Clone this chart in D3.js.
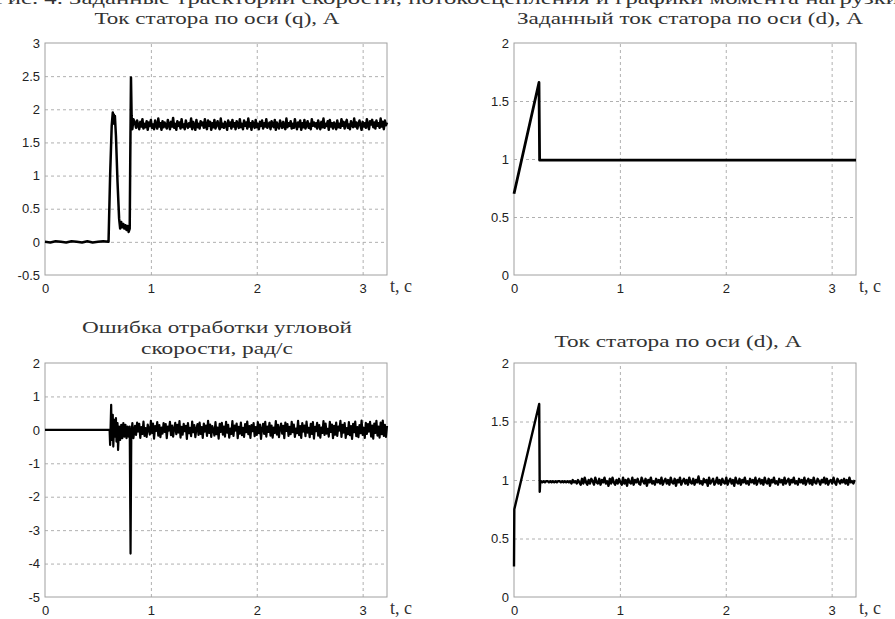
<!DOCTYPE html>
<html>
<head>
<meta charset="utf-8">
<script src="https://cdn.jsdelivr.net/npm/d3@7"></script>
<style>
  body { margin: 0; background: #fff; }
  svg { display: block; }
  .tick text { font-family: "Liberation Sans", Arial, sans-serif; font-size: 13px; fill: #222; }
  .ttl { font-family: "Liberation Serif", "Times New Roman", serif; fill: #333; }
</style>
</head>
<body>
<script>
// time axis shared by all four panels
var tMax = 3.23;
var xTicks = [0, 1, 2, 3];

// Ток статора по оси (q): start-up transient as [t, value] pairs
var qTransient = [
  [0, 0], [0.05, -0.01], [0.1, 0.01], [0.15, 0], [0.2, -0.01], [0.25, 0.01], [0.3, 0], [0.35, -0.01],
  [0.4, 0.01], [0.45, -0.01], [0.5, 0], [0.55, 0.01], [0.6, 0],
  [0.615, 1.0], [0.63, 1.75], [0.64, 1.95], [0.645, 1.8], [0.65, 1.92], [0.655, 1.78], [0.66, 1.9],
  [0.665, 1.75], [0.67, 1.6], [0.685, 0.9], [0.70, 0.35], [0.71, 0.2], [0.72, 0.3], [0.73, 0.22],
  [0.74, 0.27], [0.75, 0.2], [0.76, 0.25], [0.77, 0.18], [0.78, 0.24], [0.79, 0.15], [0.80, 0.2],
  [0.805, 1.2], [0.812, 2.48], [0.818, 1.9], [0.825, 1.7], [0.835, 1.85]
];
// steady part, sampled every 0.01 s from 0.85 s
var qSteadyStart = 0.85, qSteadyStep = 0.01;
var qSteady = [
  1.79,1.72,1.83,1.76,1.70,1.81,1.74,1.85,1.71,1.78,
  1.73,1.82,1.69,1.80,1.75,1.84,1.72,1.77,1.70,1.83,
  1.76,1.71,1.86,1.74,1.79,1.69,1.82,1.73,1.80,1.75,
  1.71,1.84,1.77,1.70,1.81,1.74,1.87,1.72,1.78,1.69,
  1.82,1.75,1.80,1.71,1.85,1.73,1.77,1.70,1.83,1.76,
  1.72,1.79,1.74,1.86,1.70,1.81,1.75,1.69,1.84,1.73,
  1.78,1.71,1.82,1.76,1.80,1.72,1.85,1.74,1.70,1.83,
  1.75,1.81,1.69,1.79,1.73,1.84,1.71,1.77,1.82,1.74,
  1.70,1.86,1.73,1.78,1.72,1.81,1.76,1.69,1.83,1.75,
  1.80,1.71,1.84,1.74,1.79,1.70,1.82,1.77,1.72,1.85,
  1.73,1.78,1.70,1.83,1.75,1.80,1.71,1.86,1.74,1.79,
  1.69,1.82,1.76,1.72,1.84,1.73,1.78,1.70,1.81,1.75,
  1.83,1.71,1.79,1.74,1.85,1.72,1.77,1.80,1.70,1.82,
  1.76,1.73,1.84,1.69,1.80,1.75,1.71,1.83,1.77,1.72,
  1.81,1.74,1.70,1.86,1.73,1.79,1.75,1.82,1.71,1.78,
  1.72,1.85,1.76,1.70,1.80,1.74,1.83,1.69,1.79,1.73,
  1.84,1.71,1.77,1.82,1.72,1.78,1.70,1.85,1.75,1.80,
  1.74,1.79,1.71,1.83,1.76,1.70,1.81,1.73,1.86,1.72,
  1.78,1.75,1.82,1.69,1.84,1.74,1.79,1.71,1.80,1.76,
  1.70,1.83,1.73,1.78,1.72,1.85,1.75,1.81,1.71,1.79,
  1.84,1.72,1.77,1.70,1.82,1.76,1.73,1.86,1.74,1.80,
  1.71,1.78,1.83,1.75,1.69,1.81,1.74,1.79,1.72,1.85,
  1.76,1.70,1.82,1.77,1.84,1.73,1.80,1.71,1.83,1.75,
  1.79,1.72,1.86,1.74,1.81,1.70,1.83,1.76,1.80
];
var qTicks = [-0.5, 0, 0.5, 1, 1.5, 2, 2.5, 3];

// Заданный ток статора по оси (d)
var dRef = [[0, 0.7], [0.236, 1.66], [0.242, 0.99], [3.23, 0.99]];
var dTicks = [0, 0.5, 1, 1.5, 2];

// Ошибка отработки угловой скорости
var errTransient = [
  [0, 0], [0.3, 0], [0.6, 0], [0.61, 0], [0.615, -0.45], [0.625, 0.75], [0.63, -0.3], [0.64, 0.45],
  [0.645, -0.5], [0.655, 0.3], [0.66, -0.2], [0.67, 0.35], [0.675, -0.35], [0.685, 0.2], [0.69, -0.6],
  [0.7, 0.1], [0.71, -0.3], [0.72, 0.15], [0.73, -0.25], [0.74, 0.2], [0.75, -0.2], [0.76, 0.15],
  [0.77, -0.25], [0.78, 0.1], [0.79, -0.2], [0.8, 0.1], [0.808, -3.7], [0.815, -0.2], [0.825, 0.2], [0.835, -0.25]
];
var errSteadyStart = 0.85, errSteadyStep = 0.01;
var errSteady = [
  0.12,-0.15,0.22,-0.05,0.18,-0.24,0.08,-0.12,0.25,-0.18,
  0.05,-0.21,0.16,0.02,-0.14,0.27,-0.09,0.19,-0.26,0.11,
  -0.03,0.23,-0.17,0.14,-0.22,0.07,-0.11,0.20,-0.06,0.17,
  -0.25,0.10,-0.02,0.24,-0.16,0.13,-0.20,0.04,0.21,-0.13,
  0.15,-0.08,0.26,-0.23,0.09,-0.14,0.18,-0.04,0.12,-0.27,
  0.20,-0.10,0.06,-0.19,0.25,-0.07,0.14,-0.22,0.03,0.17,
  -0.15,0.22,-0.12,0.08,-0.24,0.19,-0.05,0.13,-0.18,0.27,
  -0.09,0.16,-0.21,0.11,0.01,-0.17,0.23,-0.13,0.07,-0.26,
  0.18,-0.06,0.21,-0.14,0.10,-0.20,0.24,-0.08,0.15,-0.23,
  0.04,-0.12,0.26,-0.18,0.13,-0.02,0.19,-0.25,0.09,-0.11,
  0.22,-0.16,0.06,-0.21,0.17,-0.07,0.25,-0.13,0.11,-0.24,
  0.14,-0.04,0.20,-0.19,0.08,-0.15,0.23,-0.10,0.16,-0.27,
  0.03,0.18,-0.12,0.24,-0.20,0.10,-0.06,0.21,-0.17,0.13,
  -0.23,0.07,-0.09,0.26,-0.14,0.15,-0.22,0.05,0.19,-0.11,
  0.12,-0.25,0.22,-0.03,0.17,-0.18,0.09,-0.13,0.24,-0.07,
  0.16,-0.21,0.04,-0.10,0.27,-0.16,0.11,-0.24,0.20,-0.05,
  0.13,-0.19,0.25,-0.08,0.06,-0.22,0.18,-0.12,0.23,-0.26,
  0.09,-0.04,0.21,-0.17,0.14,-0.23,0.07,-0.09,0.26,-0.15,
  0.19,-0.11,0.03,-0.20,0.24,-0.06,0.16,-0.25,0.12,-0.14,
  0.22,-0.18,0.10,-0.02,0.27,-0.21,0.15,-0.08,0.20,-0.24,
  0.05,-0.13,0.23,-0.16,0.11,-0.27,0.18,-0.07,0.25,-0.19,
  0.08,-0.22,0.14,-0.10,0.28,-0.15,0.06,-0.24,0.21,-0.12,
  0.17,-0.05,0.24,-0.20,0.13,-0.26,0.19,-0.09,0.27,-0.17,
  0.10,-0.23,0.22,-0.13,0.28,-0.18,0.15,-0.21,0.12
];
var errTicks = [-5, -4, -3, -2, -1, 0, 1, 2];

// Ток статора по оси (d)
var dTransient = [[0, 0.26], [0.003, 0.75], [0.238, 1.65], [0.243, 0.9], [0.248, 0.99]];
var dSteadyStart = 0.255, dSteadyStep = 0.0125;
var dSteady = [
  0.99,0.98,0.99,0.98,0.99,0.99,0.98,0.99,0.98,0.99,
  0.98,0.99,0.98,0.99,0.99,0.98,0.99,0.98,0.99,0.98,
  0.99,0.98,0.99,0.97,1.00,0.98,0.99,0.97,1.00,0.98,
  0.96,1.01,0.97,1.02,0.98,0.96,1.00,0.97,1.01,0.99,
  0.96,1.02,0.98,0.97,1.01,0.96,1.00,0.98,1.02,0.97,
  0.99,0.95,1.01,0.97,1.02,0.98,0.96,1.00,0.97,1.01,
  0.98,0.96,1.02,0.97,1.00,0.95,1.01,0.98,0.97,1.02,
  0.96,1.00,0.98,1.01,0.97,0.96,1.02,0.99,0.97,1.01,
  0.95,1.00,0.98,1.02,0.97,0.99,0.96,1.01,0.98,1.00,
  0.97,1.02,0.96,0.99,1.01,0.97,1.00,0.96,1.02,0.98,
  0.97,1.01,0.95,1.00,0.98,1.02,0.96,0.99,1.01,0.97,
  1.00,0.96,1.02,0.98,0.97,1.01,0.96,1.00,0.98,1.03,
  0.97,0.99,0.96,1.01,0.98,1.00,0.95,1.02,0.97,0.99,
  1.01,0.96,0.98,1.02,0.97,1.00,0.96,1.01,0.98,0.97,
  1.02,0.96,0.99,1.01,0.97,1.00,0.95,1.02,0.98,0.97,
  1.01,0.96,1.00,0.98,1.02,0.97,0.99,0.96,1.01,0.98,
  1.00,0.97,1.02,0.96,0.99,1.01,0.97,1.00,0.96,1.02,
  0.98,0.97,1.01,0.95,1.00,0.98,1.02,0.97,0.99,0.96,
  1.01,0.98,1.00,0.96,1.02,0.97,0.99,1.01,0.96,1.00,
  0.98,1.02,0.97,0.99,0.96,1.01,0.98,1.00,0.97,1.02,
  0.96,0.99,1.01,0.97,1.00,0.96,1.02,0.98,0.97,1.01,
  0.99,0.96,1.00,0.98,1.02,0.97,1.01,0.96,0.99,1.00,
  0.97,1.02,0.98,0.96,1.01,0.99,0.97,1.00,0.98,1.01,
  0.97,1.00,0.96,1.02,0.98,0.99,0.97,1.00
];

var figCaption = "Рис. 4. Заданные траектории скорости, потокосцепления и графики момента нагрузки";

// turn a sampled series into [t, value] pairs
function expand(t0, dt, vals) {
  return vals.map(function (v, i) { return [t0 + i * dt, v]; });
}

var W = 895, H = 619;
var svg = d3.select("body").append("svg").attr("width", W).attr("height", H);

// caption line, only its lower half shows at the top edge
svg.append("text").attr("class", "ttl")
  .attr("x", -6).attr("y", 4)
  .attr("font-size", 16)
  .attr("textLength", 905).attr("lengthAdjust", "spacingAndGlyphs")
  .text(figCaption);

function panel(p) {
  var x = d3.scaleLinear().domain([0, tMax]).range([p.left, p.right]);
  var y = d3.scaleLinear().domain([p.yTicks[0], p.yTicks[p.yTicks.length - 1]]).range([p.bottom, p.top]);
  var g = svg.append("g");
  var h = p.bottom - p.top, w = p.right - p.left;

  // dashed grid
  g.append("g").attr("transform", "translate(0," + p.bottom + ")")
    .call(d3.axisBottom(x).tickValues(xTicks.slice(1)).tickSize(-h).tickFormat(""))
    .call(function (s) {
      s.select(".domain").remove();
      s.selectAll("line").attr("stroke", "#b0b0b0").attr("stroke-dasharray", "3,3");
    });
  g.append("g").attr("transform", "translate(" + p.left + ",0)")
    .call(d3.axisLeft(y).tickValues(p.yTicks.slice(1, -1)).tickSize(-w).tickFormat(""))
    .call(function (s) {
      s.select(".domain").remove();
      s.selectAll("line").attr("stroke", "#b0b0b0").attr("stroke-dasharray", "3,3");
    });

  // frame
  g.append("rect")
    .attr("x", p.left).attr("y", p.top).attr("width", w).attr("height", h)
    .attr("fill", "none").attr("stroke", "#a0a0a0").attr("stroke-width", 1);

  // tick labels
  g.append("g").attr("transform", "translate(0," + p.bottom + ")")
    .call(d3.axisBottom(x).tickValues(xTicks).tickSize(0).tickPadding(9).tickFormat(d3.format("d")))
    .call(function (s) { s.select(".domain").remove(); });
  g.append("g").attr("transform", "translate(" + p.left + ",0)")
    .call(d3.axisLeft(y).tickValues(p.yTicks).tickSize(0).tickPadding(5).tickFormat(function (d) { return String(d); }))
    .call(function (s) { s.select(".domain").remove(); });

  // signal
  var line = d3.line().x(function (d) { return x(d[0]); }).y(function (d) { return y(d[1]); });
  g.append("path").datum(p.data)
    .attr("fill", "none").attr("stroke", "#000")
    .attr("stroke-width", p.sw).attr("stroke-linejoin", "round")
    .attr("d", line);

  // time label
  g.append("text").attr("class", "ttl")
    .attr("x", p.right + 3).attr("y", p.bottom + 17)
    .attr("font-size", 18)
    .text("t, c");

  // title
  p.title.forEach(function (t) {
    g.append("text").attr("class", "ttl")
      .attr("x", t.cx).attr("y", t.y)
      .attr("text-anchor", "middle")
      .attr("font-size", 16)
      .attr("textLength", t.len).attr("lengthAdjust", "spacingAndGlyphs")
      .text(t.text);
  });
}

panel({
  left: 45, right: 387, top: 43, bottom: 275, yTicks: qTicks, sw: 2.5,
  data: qTransient.concat(expand(qSteadyStart, qSteadyStep, qSteady)),
  title: [{ text: "Ток статора по оси (q), А", cx: 217, y: 24, len: 245 }]
});
panel({
  left: 514, right: 856, top: 43, bottom: 275, yTicks: dTicks, sw: 2.8,
  data: dRef,
  title: [{ text: "Заданный ток статора по оси (d), А", cx: 690, y: 24, len: 346 }]
});
panel({
  left: 45, right: 387, top: 363, bottom: 597, yTicks: errTicks, sw: 2.2,
  data: errTransient.concat(expand(errSteadyStart, errSteadyStep, errSteady)),
  title: [
    { text: "Ошибка отработки угловой", cx: 217, y: 333, len: 270 },
    { text: "скорости, рад/с", cx: 217, y: 354, len: 152 }
  ]
});
panel({
  left: 514, right: 856, top: 363, bottom: 597, yTicks: dTicks, sw: 2.4,
  data: dTransient.concat(expand(dSteadyStart, dSteadyStep, dSteady)),
  title: [{ text: "Ток статора по оси (d), А", cx: 678, y: 347, len: 247 }]
});
</script>
</body>
</html>
